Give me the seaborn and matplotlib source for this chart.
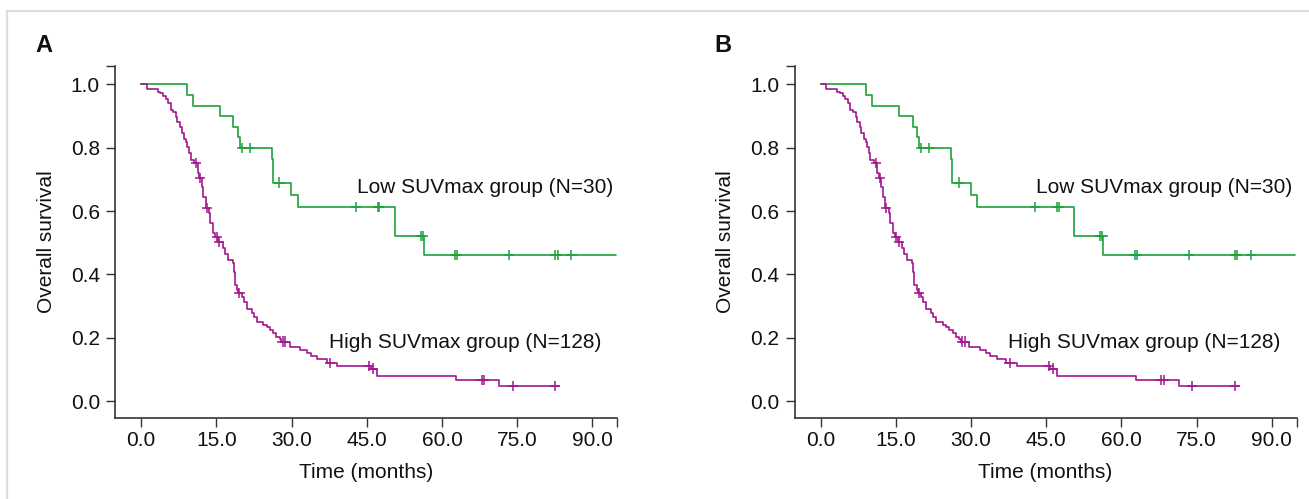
import numpy as np
import pandas as pd
import seaborn as sns
import matplotlib.pyplot as plt
from matplotlib.patches import Rectangle

# Kaplan-Meier steps: time (months) and survival after each drop
low_times = [0, 9.1, 10.3, 15.7, 18.4, 19.3, 19.7, 26.1, 26.3, 29.9, 31.2, 50.6, 56.4, 94.7]
low_surv = [1.0, 0.967, 0.933, 0.900, 0.867, 0.833, 0.800, 0.764, 0.690, 0.652, 0.614,
            0.521, 0.462, 0.462]
low_censor = [20.1, 21.7, 27.6, 42.8, 47.2, 47.5, 55.8, 56.2, 62.6, 63.0, 73.4, 82.6, 83.1, 85.8]

high_times = [0, 1.1, 3.3, 3.8, 4.4, 4.9, 5.4, 5.9, 6.4, 7.0,
              7.2, 7.8, 8.1, 8.6, 9.0, 9.2, 9.6, 9.9, 10.6, 11.3,
              11.6, 12.1, 12.4, 12.9, 13.6, 13.8, 14.4, 14.8, 15.4, 16.3,
              16.7, 17.3, 18.3, 18.5, 18.7, 19.2, 19.4, 20.1, 20.5, 21.1,
              22.1, 22.5, 23.1, 24.4, 25.1, 25.7, 26.4, 27.0, 27.7, 28.0,
              29.6, 31.7, 33.0, 33.8, 35.1, 37.0, 39.1, 45.8, 47.1, 62.8,
              71.4, 83.4]
high_surv = [1.0, 0.984, 0.977, 0.972, 0.963, 0.953, 0.942, 0.919, 0.912, 0.898,
             0.882, 0.866, 0.845, 0.829, 0.819, 0.803, 0.782, 0.761, 0.751, 0.72,
             0.705, 0.677, 0.645, 0.61, 0.593, 0.561, 0.530, 0.519, 0.503, 0.482,
             0.466, 0.447, 0.435, 0.408, 0.368, 0.350, 0.341, 0.329, 0.314, 0.290,
             0.277, 0.266, 0.250, 0.242, 0.235, 0.224, 0.214, 0.203, 0.195, 0.188,
             0.171, 0.163, 0.153, 0.143, 0.133, 0.121, 0.111, 0.103, 0.080, 0.068,
             0.047, 0.047]
high_censor = [11.0, 11.8, 13.1, 15.1, 15.6, 19.6, 28.2, 28.7, 37.7, 45.5, 46.3,
               67.9, 68.4, 74.1, 82.6]

groups = ["low", "high"]
group_labels = ["Low SUVmax group (N=30)", "High SUVmax group (N=128)"]
colors = {"low": "#1da23a", "high": "#a3168e"}
panel_letters = ["A", "B"]
x_ticks = [0, 15, 30, 45, 60, 75, 90]
y_ticks = [0.0, 0.2, 0.4, 0.6, 0.8, 1.0]

sns.set_theme(style="ticks")
plt.rcParams['font.family'] = ['Liberation Sans', 'DejaVu Sans']


def survival_at(times, surv, t):
    idx = np.searchsorted(times, t, side='right') - 1
    return np.asarray(surv)[idx]


curves = pd.concat([
    pd.DataFrame({"time": low_times, "surv": low_surv, "group": "low"}),
    pd.DataFrame({"time": high_times, "surv": high_surv, "group": "high"}),
], ignore_index=True)

marks = pd.concat([
    pd.DataFrame({"time": low_censor, "surv": survival_at(low_times, low_surv, low_censor), "group": "low"}),
    pd.DataFrame({"time": high_censor, "surv": survival_at(high_times, high_surv, high_censor), "group": "high"}),
], ignore_index=True)

W, H = 1309, 499
fig = plt.figure(figsize=(W / 100, H / 100), dpi=100)

# light grey frame around the figure
fig.patches.append(Rectangle((7 / W, -0.1), 1.2, (H - 11) / H + 0.1, transform=fig.transFigure,
                             fill=False, edgecolor="#dcdcdc", linewidth=1.6))

xlim = (-5.2, 94.9)
ylim = (-0.053, 1.058)
text_pos = {"low": (43.0, 0.674), "high": (37.4, 0.184)}

for i, letter in enumerate(panel_letters):
    left_px = 115 + i * 679.5
    ax = fig.add_axes([left_px / W, (H - 418) / H, 502 / W, 352 / H])

    sns.lineplot(data=curves, x="time", y="surv", hue="group", palette=colors,
                 drawstyle="steps-post", estimator=None, sort=False, legend=False,
                 linewidth=1.2, ax=ax)
    sns.scatterplot(data=marks, x="time", y="surv", hue="group", palette=colors,
                    marker="+", s=55, linewidth=1.1, legend=False, ax=ax)

    for g, lab in zip(groups, group_labels):
        ax.text(text_pos[g][0], text_pos[g][1], lab, fontsize=15, color="#111111",
                ha="left", va="center")

    ax.set_xlim(*xlim)
    ax.set_ylim(*ylim)
    ax.set_xticks(x_ticks)
    ax.set_xticklabels([f"{v:.1f}" for v in x_ticks])
    ax.set_yticks(y_ticks)
    ax.set_yticklabels([f"{v:.1f}" for v in y_ticks])
    ax.set_xticks([xlim[1]], minor=True)
    ax.set_yticks([ylim[1]], minor=True)
    ax.tick_params(which="both", length=6.5, width=1.0, color="#333333",
                   labelsize=15, labelcolor="#111111")
    ax.tick_params(axis="x", pad=3)
    ax.tick_params(axis="y", pad=4.3)

    sns.despine(ax=ax)
    for side in ["left", "bottom"]:
        ax.spines[side].set_linewidth(1.2)
        ax.spines[side].set_color("#333333")

    ax.set_xlabel("Time (months)", fontsize=15, color="#111111")
    ax.set_ylabel("Overall survival", fontsize=15, color="#111111")
    ax.xaxis.set_label_coords(0.5, -0.128)
    ax.yaxis.set_label_coords(-0.118, 0.5)

    fig.text((35 + i * 679.5) / W, 1 - 46 / H, letter, fontsize=17, fontweight="bold",
             ha="left", va="center", color="#111111")

fig.savefig("out.png", dpi=100)
